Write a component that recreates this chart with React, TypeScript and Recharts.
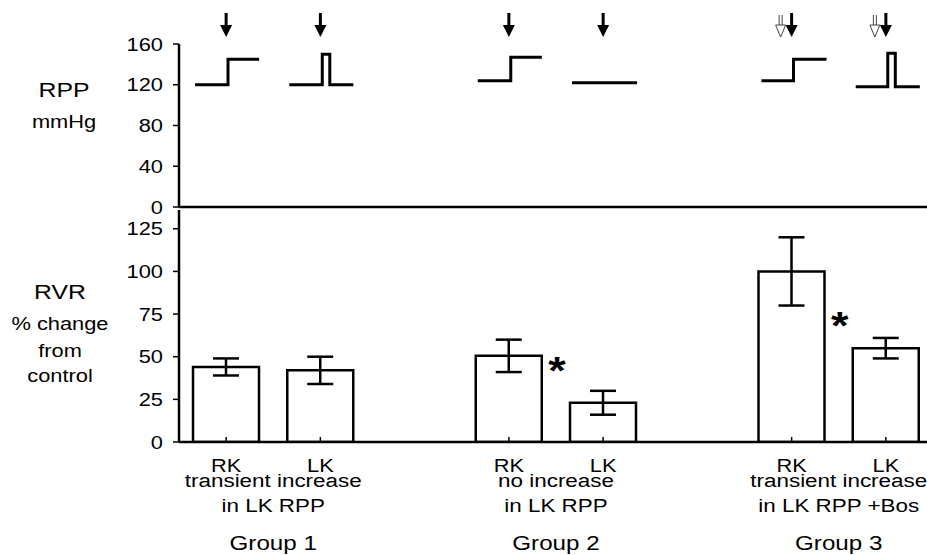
import React from 'react'
import { ComposedChart, Bar, Line, Scatter, XAxis, YAxis, ErrorBar } from 'recharts'

const FONT = '"Liberation Sans", Arial, Helvetica, sans-serif'
const SX = 1.18 // the scanned figure is a little wider than plain Arial

// x slots: two kidneys per group, one empty slot between groups
const slots = ['g1RK', 'g1LK', 'gap1', 'g2RK', 'g2LK', 'gap2', 'g3RK', 'g3LK']
const kidneyLabels = ['RK', 'LK', '', 'RK', 'LK', '', 'RK', 'LK']

// RVR, % change from control
const rvrMean = [44, 42, null, 50.5, 23, null, 100, 55]
const rvrErr = [5, 8, null, 9.5, 7, null, 20, 6]
const starAt = [null, null, null, 47, null, null, 73, null]

// group captions sit under the LK slot of each group, shifted half a band left
const groupSlot = [1, 4, 7]
const groupDesc = [
  ['transient increase', 'in LK RPP'],
  ['no increase', 'in LK RPP'],
  ['transient increase', 'in LK RPP +Bos'],
]
const groupNames = ['Group 1', 'Group 2', 'Group 3']

// RPP protocol traces: t = time offset inside the slot, p = mmHg
const traceG1RK = [{ t: -0.33, p: 120 }, { t: 0.02, p: 120 }, { t: 0.02, p: 145 }, { t: 0.35, p: 145 }]
const traceG1LK = [{ t: -0.33, p: 120 }, { t: 0.02, p: 120 }, { t: 0.02, p: 150 }, { t: 0.1, p: 150 }, { t: 0.1, p: 120 }, { t: 0.35, p: 120 }]
const traceG2RK = [{ t: -0.33, p: 124 }, { t: 0.02, p: 124 }, { t: 0.02, p: 147 }, { t: 0.35, p: 147 }]
const traceG2LK = [{ t: -0.33, p: 122 }, { t: 0.36, p: 122 }]
const traceG3RK = [{ t: -0.32, p: 124 }, { t: 0.02, p: 124 }, { t: 0.02, p: 145 }, { t: 0.37, p: 145 }]
const traceG3LK = [{ t: -0.32, p: 118 }, { t: 0.02, p: 118 }, { t: 0.02, p: 151 }, { t: 0.1, p: 151 }, { t: 0.1, p: 118 }, { t: 0.36, p: 118 }]
const traceSlots = [0, 1, 3, 4, 6, 7]
const traceList = [traceG1RK, traceG1LK, traceG2RK, traceG2LK, traceG3RK, traceG3LK]

// arrows mark the RPP manipulation; hollow arrow = bosentan
const arrowSlots = [0, 1, 3, 4, 6, 7]
const bosSlots = [6, 7]

const rvrData = slots.map((slot, i) => ({ slot, rvr: rvrMean[i], err: rvrErr[i], star: starAt[i] }))
const traces = traceList.map((pts, i) => pts.map(d => ({ x: traceSlots[i] + 0.5 + d.t, p: d.p })))
const arrows = arrowSlots.map(s => ({ x: s + 0.5, p: 160, bos: bosSlots.includes(s) }))

function SText({ x, y, anchor = 'middle', size = 19, weight = 'normal', children }: any) {
  return (
    <text
      transform={`translate(${x},${y}) scale(${SX},1)`}
      textAnchor={anchor}
      fontSize={size}
      fontWeight={weight}
      fontFamily={FONT}
      fill="#000"
    >
      {children}
    </text>
  )
}

const YTick = ({ x, y, payload }: any) => (
  <SText x={x} y={y + 6.5} anchor="end" size={18.5}>{payload.value}</SText>
)

const KidneyTick = ({ x, y, payload }: any) => {
  const i = payload.index
  const label = kidneyLabels[i]
  const g = groupSlot.indexOf(i)
  const half = payload.offset || 47
  return (
    <g>
      {label && <line x1={x} y1={y} x2={x} y2={y - 5} stroke="#000" strokeWidth={1.5} />}
      {label && <SText x={x} y={y + 30} size={18.5}>{label}</SText>}
      {g >= 0 && (
        <g>
          <SText x={x - half} y={y + 45} size={19}>{groupDesc[g][0]}</SText>
          <SText x={x - half} y={y + 70} size={19}>{groupDesc[g][1]}</SText>
          <SText x={x - half} y={y + 108} size={20.5}>{groupNames[g]}</SText>
        </g>
      )}
    </g>
  )
}

const ArrowShape = ({ cx, cy, payload }: any) => {
  const top = cy - 31
  const tip = cy - 7
  const base = tip - 12
  const hx = cx - 11
  return (
    <g>
      <line x1={cx} y1={top} x2={cx} y2={base + 1} stroke="#000" strokeWidth={3} />
      <polygon points={`${cx - 6},${base} ${cx + 6},${base} ${cx},${tip}`} fill="#000" />
      {payload.bos && (
        <g stroke="#444" strokeWidth={1} fill="#fff">
          <line x1={hx - 1.5} y1={top + 2} x2={hx - 1.5} y2={base} />
          <line x1={hx + 1.5} y1={top + 2} x2={hx + 1.5} y2={base} />
          <polygon points={`${hx - 5},${base} ${hx + 5},${base} ${hx},${tip}`} />
        </g>
      )}
    </g>
  )
}

const StarShape = ({ cx, cy, payload }: any) => {
  if (payload.star == null || isNaN(cy)) return null
  return <SText x={cx + 48} y={cy + 22} size={38} weight="bold">*</SText>
}

const AxisLabel = ({ lines, x, y0 }: { lines: { text: string; dy: number; size: number }[]; x: number; y0: number }) => (
  <g>
    {lines.map(l => (
      <SText key={l.text} x={x} y={y0 + l.dy} size={l.size}>{l.text}</SText>
    ))}
  </g>
)

export default function App() {
  return (
    <div style={{ position: 'absolute', left: 0, top: 0, width: 927, height: 555, overflow: 'hidden', background: '#fff' }}>
      {/* RPP protocol panel */}
      <div style={{ position: 'absolute', left: 0, top: 0 }}>
        <ComposedChart width={933} height={222} margin={{ top: 44, right: 0, bottom: 0, left: 0 }}>
          <XAxis
            type="number"
            dataKey="x"
            domain={[0, 8]}
            height={15}
            tick={false}
            tickLine={false}
            axisLine={{ stroke: '#000', strokeWidth: 2.5 }}
          />
          <YAxis
            type="number"
            dataKey="p"
            domain={[0, 160]}
            ticks={[0, 40, 80, 120, 160]}
            interval={0}
            width={179}
            tickSize={6}
            tickMargin={10}
            tick={<YTick />}
            tickLine={{ stroke: '#000', strokeWidth: 1.5 }}
            axisLine={{ stroke: '#000', strokeWidth: 2.5 }}
            label={{
              content: () => (
                <AxisLabel
                  x={64}
                  y0={44}
                  lines={[
                    { text: 'RPP', dy: 53, size: 21 },
                    { text: 'mmHg', dy: 84, size: 18.5 },
                  ]}
                />
              ),
            }}
          />
          {traces.map((d, i) => (
            <Line
              key={i}
              data={d}
              dataKey="p"
              type="linear"
              stroke="#000"
              strokeWidth={3}
              dot={false}
              isAnimationActive={false}
            />
          ))}
          <Scatter data={arrows} dataKey="p" shape={<ArrowShape />} isAnimationActive={false} />
        </ComposedChart>
      </div>

      {/* RVR panel */}
      <div style={{ position: 'absolute', left: 0, top: 205 }}>
        <ComposedChart width={933} height={350} data={rvrData} margin={{ top: 5, right: 0, bottom: 0, left: 0 }}>
          <XAxis
            dataKey="slot"
            height={113}
            interval={0}
            tickSize={0}
            tickMargin={0}
            tickLine={false}
            tick={<KidneyTick />}
            axisLine={{ stroke: '#000', strokeWidth: 2.5 }}
          />
          <YAxis
            type="number"
            domain={[0, 136]}
            allowDataOverflow
            ticks={[0, 25, 50, 75, 100, 125]}
            interval={0}
            width={179}
            tickSize={6}
            tickMargin={10}
            tick={<YTick />}
            tickLine={{ stroke: '#000', strokeWidth: 1.5 }}
            axisLine={{ stroke: '#000', strokeWidth: 2.5 }}
            label={{
              content: () => (
                <AxisLabel
                  x={60}
                  y0={5}
                  lines={[
                    { text: 'RVR', dy: 89, size: 21 },
                    { text: '% change', dy: 120, size: 18.5 },
                    { text: 'from', dy: 147, size: 18.5 },
                    { text: 'control', dy: 172, size: 18.5 },
                  ]}
                />
              ),
            }}
          />
          <Bar dataKey="rvr" fill="#fff" stroke="#000" strokeWidth={2.5} barSize={66} isAnimationActive={false}>
            <ErrorBar dataKey="err" width={13} strokeWidth={2.5} stroke="#000" direction="y" />
          </Bar>
          <Scatter dataKey="star" shape={<StarShape />} isAnimationActive={false} />
        </ComposedChart>
      </div>
    </div>
  )
}
